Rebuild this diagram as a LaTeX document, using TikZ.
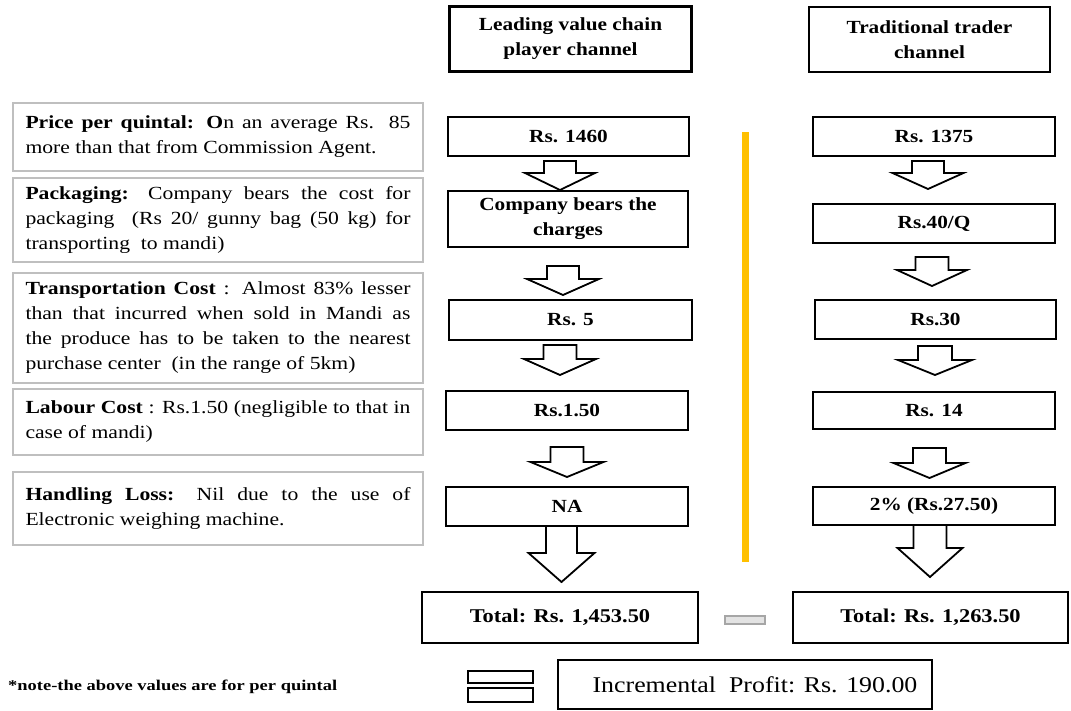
\documentclass[tikz,border=0pt]{standalone}
\usepackage{fontspec}
\usepackage{graphicx}
\setmainfont{Liberation Serif}
\newfontfamily\lfont[FakeStretch=1.17]{Liberation Serif}
\newfontfamily\rfont[FakeStretch=1.15]{Liberation Serif}
\definecolor{gold}{HTML}{FFC000}
\definecolor{gbox}{HTML}{BFBFBF}
\definecolor{mgray}{HTML}{A6A6A6}
\definecolor{lgray}{HTML}{E3E3E3}
\newcommand\blockarrow[6]{%
  \draw[barrow] (#1-#5,#2) -- (#1+#5,#2) -- (#1+#5,#3) -- (#1+#6,#3) -- (#1,#4) -- (#1-#6,#3) -- (#1-#5,#3) -- cycle;}
\begin{document}
\begin{tikzpicture}[x=1pt,y=-1pt,
  hbox/.style={draw=black, line width=2.2pt, fill=white, inner sep=0pt, align=center,
    font=\rfont\bfseries\fontsize{18.5}{25}\selectfont},
  totbox/.style={hbox, line width=2.5pt, font=\rfont\bfseries\fontsize{19.5}{25}\selectfont},
  incbox/.style={hbox, line width=2.5pt, font=\rfont\fontsize{22.5}{28}\selectfont},
  textbox/.style={draw=gbox, line width=1.8pt, inner sep=0pt, text width=385pt, align=justify,
    minimum width=410pt, font=\lfont\fontsize{18.5}{25}\selectfont},
  barrow/.style={draw=black, line width=1.8pt, fill=white, line join=miter},
  minusbar/.style={draw=mgray, fill=lgray, line width=1.2pt, minimum width=40pt, minimum height=8pt, inner sep=0pt},
  eqbar/.style={draw=black, fill=white, line width=2pt, minimum width=65pt, inner sep=0pt}
]
\useasboundingbox (0,0) rectangle (1071,710);

% headers
\node[hbox, minimum width=242pt, minimum height=65pt] (h1) at (570.5,39) {Leading value chain\\player channel};
\node[hbox, minimum width=241pt, minimum height=65pt] (h2) at (929.5,39.5) {Traditional trader\\channel};

% left description boxes
\node[textbox, minimum height=68pt] (ta) at (218,137) {\textbf{Price per quintal: O}n an average Rs. 85\linebreak more than that from Commission Agent.};
\node[textbox, minimum height=84pt] (tb) at (218,220) {\textbf{Packaging:} Company bears the cost for\linebreak packaging \ (Rs 20/ gunny bag (50 kg) for\linebreak transporting \ to mandi)};
\node[textbox, minimum height=110pt] (tc) at (218,328) {\textbf{Transportation Cost} : Almost 83\% lesser\linebreak than that incurred when sold in Mandi as\linebreak the produce has to be taken to the nearest\linebreak purchase center \ (in the range of 5km)};
\node[textbox, minimum height=66pt] (td) at (218,422) {\textbf{Labour Cost} : Rs.1.50 (negligible to that in\linebreak case of mandi)};
\node[textbox, minimum height=73pt] (te) at (218,508.5) {\textbf{Handling Loss:} Nil due to the use of\linebreak Electronic weighing machine.};

% left channel
\node[hbox, minimum width=241pt, minimum height=39pt] (l1) at (568.5,136.5) {Rs. 1460};
\node[hbox, minimum width=240pt, minimum height=56pt] (l2) at (568,219) {Company bears the\\charges};
\node[hbox, minimum width=243pt, minimum height=40pt] (l3) at (570.5,320) {Rs. 5};
\node[hbox, minimum width=242pt, minimum height=39pt] (l4) at (567,410.5) {Rs.1.50};
\node[hbox, minimum width=242pt, minimum height=39pt] (l5) at (567,506.5) {NA};
\node[totbox, minimum width=276pt, minimum height=51pt] (lt) at (560,617.5) {Total: Rs. 1,453.50};

% right channel
\node[hbox, minimum width=242pt, minimum height=39pt] (r1) at (934,136.5) {Rs. 1375};
\node[hbox, minimum width=242pt, minimum height=39pt] (r2) at (934,223.5) {Rs.40/Q};
\node[hbox, minimum width=241pt, minimum height=39pt] (r3) at (935.5,319.5) {Rs.30};
\node[hbox, minimum width=242pt, minimum height=37pt] (r4) at (934,410.5) {Rs. 14};
\node[hbox, minimum width=242pt, minimum height=38pt] (r5) at (934,506) {2\% (Rs.27.50)};
\node[totbox, minimum width=275pt, minimum height=51pt] (rt) at (930.5,617.5) {Total: Rs. 1,263.50};

% block arrows, left
\blockarrow{560}{161}{173}{190}{16}{35}
\blockarrow{563}{266}{279}{295}{16}{36}
\blockarrow{560}{345}{359}{375}{16.5}{36}
\blockarrow{567}{447}{462}{477}{16.5}{36.5}
\blockarrow{561.5}{526}{553}{582}{15.5}{33}
% block arrows, right
\blockarrow{928}{161}{173}{189}{16}{35.5}
\blockarrow{932}{257}{270}{286}{16.5}{35}
\blockarrow{935}{346}{360}{375}{17}{37}
\blockarrow{929.5}{448}{463}{478}{16.5}{36}
\blockarrow{930}{525}{548}{577}{16.5}{32.5}

% divider
\coordinate (dtop) at (745.5,132);
\coordinate (dbot) at (745.5,562);
\draw[gold, line width=7pt] (dtop) -- (dbot);

% minus and equals signs
\node[minusbar] (minus) at (745,620) {};
\node[eqbar, minimum height=12pt] (eq1) at (500.5,677) {};
\node[eqbar, minimum height=14pt] (eq2) at (500.5,695) {};

% incremental profit
\node[incbox, minimum width=374pt, minimum height=49pt] (inc) at (745,684.5) {\hspace{20pt}Incremental\ \ Profit: Rs. 190.00};

% note
\node[anchor=base west, inner sep=0pt] (note) at (8,690) {\resizebox{329pt}{10.5pt}{\rfont\bfseries *note-the above values are for per quintal}};
\end{tikzpicture}
\end{document}
